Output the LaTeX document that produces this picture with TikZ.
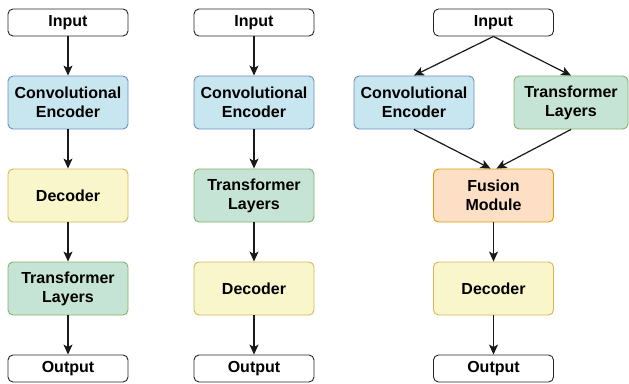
\documentclass[tikz,border=0pt]{standalone}
\usepackage{fontspec}
\setmainfont{Liberation Sans}
\usetikzlibrary{arrows.meta}
\definecolor{bluef}{RGB}{200,230,239}
\definecolor{blued}{RGB}{108,142,191}
\definecolor{greenf}{RGB}{198,228,214}
\definecolor{greend}{RGB}{130,179,102}
\definecolor{yelf}{RGB}{248,246,202}
\definecolor{yeld}{RGB}{214,182,86}
\definecolor{oranf}{RGB}{253,223,197}
\definecolor{orand}{RGB}{215,155,0}
\tikzset{
  box/.style={draw, rounded corners=5pt, minimum width=120pt, minimum height=53pt,
    inner sep=0pt, align=center, line width=0.9pt,
    font=\fontsize{16}{19}\selectfont\bfseries},
  io/.style={box, fill=white, draw=black!85, minimum height=27pt},
  conv/.style={box, fill=bluef, draw=blued},
  trans/.style={box, fill=greenf, draw=greend},
  dec/.style={box, fill=yelf, draw=yeld},
  fus/.style={box, fill=oranf, draw=orand},
  arr/.style={draw=black!90, line width=1.2pt, -{Stealth[length=10pt,width=9pt,inset=2.5pt]}}
}
\begin{document}
\begin{tikzpicture}[x=1pt,y=-1pt]
\useasboundingbox (0,0) rectangle (629,383);
% column 1
\node[io] (i1) at (68,22.5) {Input};
\node[conv] (c1) at (68,102.5) {Convolutional\\Encoder};
\node[dec] (d1) at (68,195.5) {Decoder};
\node[trans] (t1) at (68,288.5) {Transformer\\Layers};
\node[io] (o1) at (68,368.5) {Output};
\draw[arr] (i1) -- (c1);
\draw[arr] (c1) -- (d1);
\draw[arr] (d1) -- (t1);
\draw[arr] (t1) -- (o1);
% column 2
\node[io] (i2) at (254,22.5) {Input};
\node[conv] (c2) at (254,102.5) {Convolutional\\Encoder};
\node[trans] (t2) at (254,195.5) {Transformer\\Layers};
\node[dec] (d2) at (254,288.5) {Decoder};
\node[io] (o2) at (254,368.5) {Output};
\draw[arr] (i2) -- (c2);
\draw[arr] (c2) -- (t2);
\draw[arr] (t2) -- (d2);
\draw[arr] (d2) -- (o2);
% column 3
\node[io] (i3) at (493.5,22.5) {Input};
\node[conv] (c3) at (414,102.5) {Convolutional\\Encoder};
\node[trans, minimum width=114pt] (t3) at (571,102.5) {Transformer\\Layers};
\node[fus] (f3) at (493.5,195.5) {Fusion\\Module};
\node[dec] (d3) at (493.5,288.5) {Decoder};
\node[io] (o3) at (493.5,368.5) {Output};
\draw[arr] (i3.south) -- (c3.north);
\draw[arr] (i3.south) -- (t3.north);
\draw[arr] (c3.south) -- ([xshift=-3pt]f3.north);
\draw[arr] (t3.south) -- ([xshift=3pt]f3.north);
\draw[arr] (f3) -- (d3);
\draw[arr] (d3) -- (o3);
\end{tikzpicture}
\end{document}
